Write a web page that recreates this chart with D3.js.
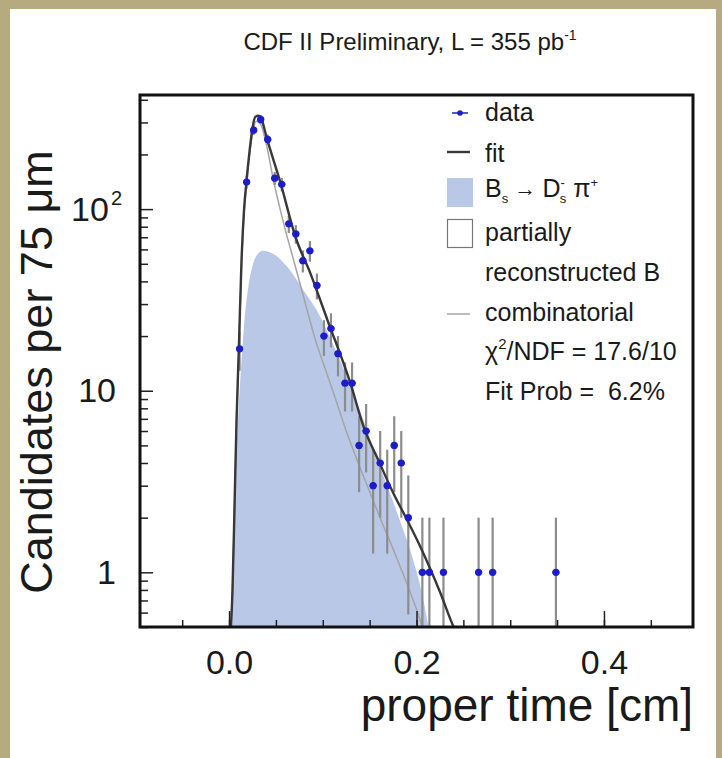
<!DOCTYPE html>
<html>
<head>
<meta charset="utf-8">
<script src="https://cdn.jsdelivr.net/npm/d3@7"></script>
<style>
  body { margin: 0; background: #b6ab80; }
  svg { display: block; }
  text { font-family: "Liberation Sans", Arial, sans-serif; fill: #1a1a1a; }
</style>
</head>
<body>
<svg id="chart" width="722" height="758"></svg>
<script>
// data: bin centres [cm] and candidates per 75 um bin
const dataTime = [0.01125, 0.01875, 0.02625, 0.03375, 0.04125, 0.04875, 0.05625, 0.06375,
    0.07125, 0.07875, 0.08625, 0.09375, 0.10125, 0.10875, 0.11625, 0.12375, 0.13125,
    0.13875, 0.14625, 0.15375, 0.16125, 0.16875, 0.17625, 0.18375, 0.19125,
    0.20625, 0.21375, 0.22875, 0.26625, 0.28125, 0.34875];
const dataCount = [17, 141, 272, 312, 242, 148, 137, 83,
    73, 52, 59, 38, 20, 22, 16, 11, 11,
    5, 6, 3, 4, 3, 5, 4, 2,
    1, 1, 1, 1, 1, 1];
const binHalfWidth = 0.00375;

// total fit
const fitTime = [0.002, 0.0037, 0.006, 0.008, 0.0104, 0.0133, 0.016, 0.0187, 0.022, 0.025,
    0.028, 0.0314, 0.0346, 0.040, 0.055, 0.071, 0.087, 0.105, 0.1295, 0.1437, 0.1597,
    0.1757, 0.1892, 0.2042, 0.2255, 0.2397, 0.25];
const fitValue = [0.5, 0.8, 2.5, 6.9, 16.7, 52, 99, 144, 211, 279,
    322, 327, 313, 249, 139, 70, 44, 24.5, 11.0, 6.3, 4.1,
    2.7, 1.98, 1.38, 0.77, 0.5, 0.4];

// Bs -> Ds pi signal component
const sigTime = [0.0016, 0.0037, 0.0069, 0.0101, 0.0133, 0.0165, 0.0208, 0.0251, 0.0304,
    0.0357, 0.0421, 0.0496, 0.0624, 0.0794, 0.0954, 0.1114, 0.1274, 0.1434, 0.1647,
    0.1828, 0.1967, 0.2063, 0.2127];
const sigValue = [0.5, 1.16, 3.65, 7.8, 14.7, 24.5, 38, 49, 56.5,
    59, 58.3, 55.8, 48, 35.8, 26.7, 17.8, 11.4, 6.9, 3.4,
    1.9, 1.16, 0.75, 0.5];

// combinatorial background
const combTime = [0.002, 0.0037, 0.006, 0.008, 0.0104, 0.0133, 0.016, 0.0187, 0.022, 0.025,
    0.0293, 0.0336, 0.040, 0.0474, 0.0584, 0.0709, 0.0816, 0.0922, 0.1024, 0.113,
    0.1255, 0.1432, 0.1611, 0.1789, 0.1931, 0.2037, 0.21];
const combValue = [0.5, 0.79, 2.4, 6.6, 16, 49, 94, 137, 200, 262,
    305, 294, 225, 144, 83, 48, 30, 19, 13.3, 9.2,
    5.9, 3.4, 2.0, 1.2, 0.78, 0.55, 0.42];

const xMajor = [0, 0.2, 0.4];
const yMajor = [1, 10, 100];

const svg = d3.select("#chart");
const frame = {left: 140, right: 693, top: 95, bottom: 627};

svg.append("rect")
    .attr("x", 10).attr("y", 9)
    .attr("width", 706).attr("height", 760)
    .attr("fill", "#fff");

const x = d3.scaleLinear()
    .domain([-0.095, 0.495])
    .range([frame.left, frame.right]);

const y = d3.scaleLog()
    .domain([0.5, 425])
    .range([frame.bottom, frame.top]);

svg.append("clipPath").attr("id", "plot-clip")
    .append("rect")
    .attr("x", frame.left).attr("y", frame.top)
    .attr("width", frame.right - frame.left)
    .attr("height", frame.bottom - frame.top);

const plot = svg.append("g").attr("clip-path", "url(#plot-clip)");

function zipCurve(ts, vs) {
    return ts.map(function (t, i) { return {t: t, v: vs[i]}; });
}

// signal fill
const area = d3.area()
    .x(function (d) { return x(d.t); })
    .y0(frame.bottom)
    .y1(function (d) { return y(d.v); })
    .curve(d3.curveMonotoneX);

plot.append("path")
    .datum(zipCurve(sigTime, sigValue))
    .attr("d", area)
    .attr("fill", "#b9c8e6");

const line = d3.line()
    .x(function (d) { return x(d.t); })
    .y(function (d) { return y(d.v); })
    .curve(d3.curveMonotoneX);

plot.append("path")
    .datum(zipCurve(combTime, combValue))
    .attr("d", line)
    .attr("fill", "none")
    .attr("stroke", "#a4a4a4")
    .attr("stroke-width", 1.5);

// data error bars (poisson)
const points = zipCurve(dataTime, dataCount);
plot.selectAll(".ebar")
    .data(points)
    .enter().append("line")
    .attr("class", "ebar")
    .attr("x1", function (d) { return x(d.t); })
    .attr("x2", function (d) { return x(d.t); })
    .attr("y1", function (d) { return y(d.v + Math.sqrt(d.v)); })
    .attr("y2", function (d) {
        const lo = d.v - Math.sqrt(d.v);
        return lo > 0.5 ? y(lo) : frame.bottom + 5;
    })
    .attr("stroke", "#8c8c8c")
    .attr("stroke-width", 2.2);

plot.append("path")
    .datum(zipCurve(fitTime, fitValue))
    .attr("d", line)
    .attr("fill", "none")
    .attr("stroke", "#383838")
    .attr("stroke-width", 2.4);

plot.selectAll(".hbar")
    .data(points)
    .enter().append("line")
    .attr("class", "hbar")
    .attr("x1", function (d) { return x(d.t - binHalfWidth); })
    .attr("x2", function (d) { return x(d.t + binHalfWidth); })
    .attr("y1", function (d) { return y(d.v); })
    .attr("y2", function (d) { return y(d.v); })
    .attr("stroke", "#1c1cc8")
    .attr("stroke-width", 2.2);

plot.selectAll(".dot")
    .data(points)
    .enter().append("circle")
    .attr("class", "dot")
    .attr("cx", function (d) { return x(d.t); })
    .attr("cy", function (d) { return y(d.v); })
    .attr("r", 3.6)
    .attr("fill", "#1c1cc8");

// axes
const xAxisG = svg.append("g").attr("transform", "translate(0," + frame.bottom + ")");
xAxisG.call(d3.axisBottom(x).tickValues(x.ticks(12)).tickSizeInner(-7).tickSizeOuter(0).tickFormat(""));
xAxisG.append("g").call(d3.axisBottom(x).tickValues(xMajor).tickSizeInner(-16).tickSizeOuter(0)
    .tickPadding(23).tickFormat(d3.format(".1f")));
xAxisG.selectAll(".domain").remove();
xAxisG.selectAll("line").attr("stroke", "#222").attr("stroke-width", 1.5);
xAxisG.selectAll("text").attr("font-size", 34).attr("fill", "#1a1a1a")
    .attr("font-family", "Liberation Sans, Arial, sans-serif");

const yAxisG = svg.append("g").attr("transform", "translate(" + frame.left + ",0)");
yAxisG.call(d3.axisLeft(y).tickValues(y.ticks().filter(function (t) { return yMajor.indexOf(t) < 0; }))
    .tickSizeInner(-8).tickSizeOuter(0).tickFormat(""));
yAxisG.append("g").call(d3.axisLeft(y).tickValues(yMajor).tickSizeInner(-13).tickSizeOuter(0)
    .tickPadding(24).tickFormat(function (d) { return d === 100 ? "10" : String(d); }));
yAxisG.selectAll(".domain").remove();
yAxisG.selectAll("line").attr("stroke", "#222").attr("stroke-width", 1.5);
yAxisG.selectAll("text").attr("font-size", 34).attr("fill", "#1a1a1a")
    .attr("font-family", "Liberation Sans, Arial, sans-serif");
yAxisG.selectAll(".tick text").filter(function (d) { return d === 100; })
    .attr("x", -18)
    .append("tspan").attr("font-size", 20).attr("dx", 2).attr("dy", -16).text("2");

// frame
svg.append("rect")
    .attr("x", frame.left).attr("y", frame.top)
    .attr("width", frame.right - frame.left)
    .attr("height", frame.bottom - frame.top)
    .attr("fill", "none")
    .attr("stroke", "#111")
    .attr("stroke-width", 3);

// titles
const title = svg.append("text")
    .attr("x", 410).attr("y", 50)
    .attr("text-anchor", "middle")
    .attr("font-size", 24);
title.append("tspan").text("CDF II Preliminary, L = 355 pb");
title.append("tspan").attr("font-size", 14).attr("dy", -10).text("-1");

svg.append("text")
    .attr("transform", "translate(52,372) rotate(-90)")
    .attr("text-anchor", "middle")
    .attr("font-size", 45)
    .text("Candidates per 75 \u03bcm");

svg.append("text")
    .attr("x", 693).attr("y", 721)
    .attr("text-anchor", "end")
    .attr("font-size", 46)
    .text("proper time [cm]");

// legend
const legend = svg.append("g").attr("font-size", 25);
const lx = 485;

legend.append("line").attr("x1", 452).attr("x2", 468).attr("y1", 113).attr("y2", 113)
    .attr("stroke", "#1c1cc8").attr("stroke-width", 1.5);
legend.append("circle").attr("cx", 460).attr("cy", 113).attr("r", 2.8).attr("fill", "#1c1cc8");
legend.append("text").attr("x", lx).attr("y", 121).text("data");

legend.append("line").attr("x1", 447).attr("x2", 470).attr("y1", 152).attr("y2", 152)
    .attr("stroke", "#383838").attr("stroke-width", 2.4);
legend.append("text").attr("x", lx).attr("y", 162).text("fit");

legend.append("rect").attr("x", 447).attr("y", 178).attr("width", 26).attr("height", 29)
    .attr("fill", "#b9c8e6");
const sig = legend.append("text").attr("x", lx).attr("y", 197);
sig.append("tspan").text("B");
sig.append("tspan").attr("font-size", 13).attr("dy", 6).text("s");
sig.append("tspan").attr("font-size", 22).attr("dy", -7).text(" \u2192 ");
sig.append("tspan").attr("dy", 1).text("D");
sig.append("tspan").attr("font-size", 13).attr("dy", -10).text("-");
sig.append("tspan").attr("font-size", 13).attr("dx", -5).attr("dy", 16).text("s");
sig.append("tspan").attr("dy", -6).text(" \u03c0");
sig.append("tspan").attr("font-size", 13).attr("dy", -10).text("+");

legend.append("rect").attr("x", 447.5).attr("y", 219.5).attr("width", 25).attr("height", 28)
    .attr("fill", "#fff").attr("stroke", "#777").attr("stroke-width", 1.2);
legend.append("text").attr("x", lx).attr("y", 241).text("partially");
legend.append("text").attr("x", lx).attr("y", 281).text("reconstructed B");

legend.append("line").attr("x1", 447).attr("x2", 470).attr("y1", 314).attr("y2", 314)
    .attr("stroke", "#a4a4a4").attr("stroke-width", 1.5);
legend.append("text").attr("x", lx).attr("y", 321).text("combinatorial");

const chi = legend.append("text").attr("x", lx).attr("y", 360);
chi.append("tspan").text("\u03c7");
chi.append("tspan").attr("font-size", 15).attr("dy", -11).text("2");
chi.append("tspan").attr("dy", 11).text("/NDF = 17.6/10");

legend.append("text").attr("x", lx).attr("y", 400).text("Fit Prob =  6.2%")
    .attr("xml:space", "preserve").style("white-space", "pre");
</script>
</body>
</html>
